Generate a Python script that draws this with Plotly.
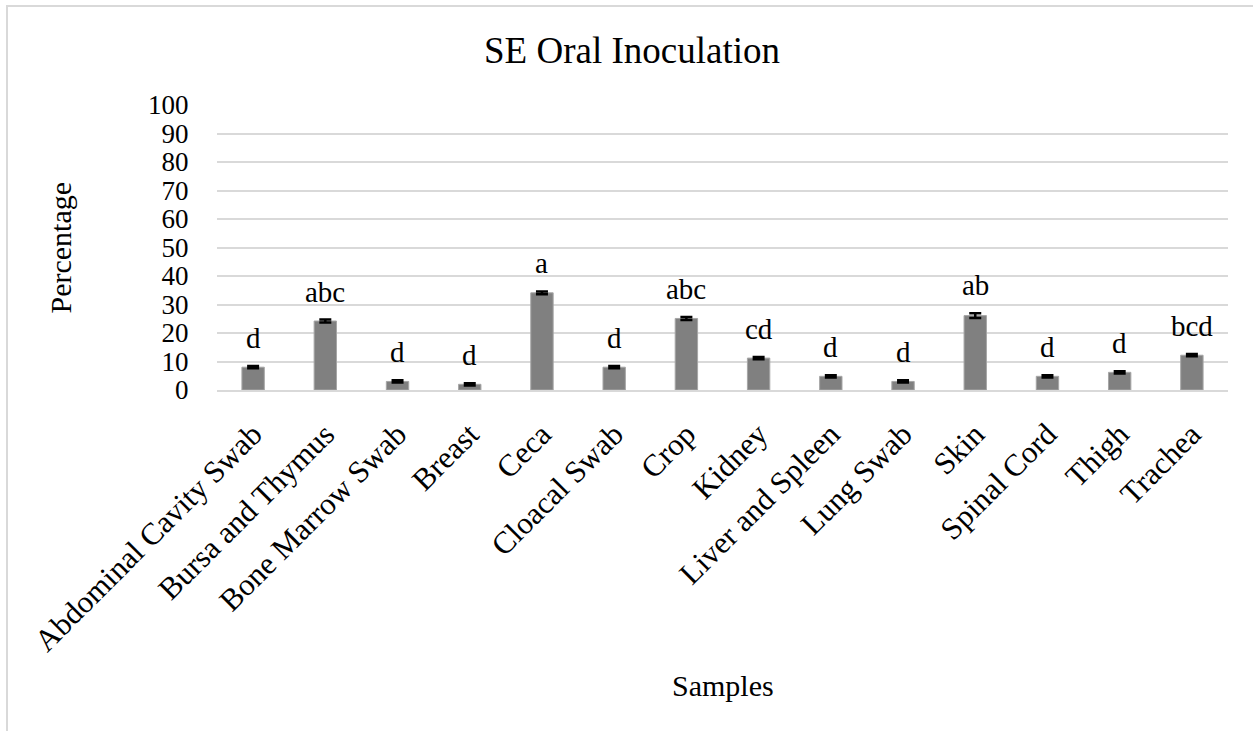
import plotly.graph_objects as go

categories = ["Abdominal Cavity Swab", "Bursa and Thymus", "Bone Marrow Swab", "Breast",
              "Ceca", "Cloacal Swab", "Crop", "Kidney", "Liver and Spleen", "Lung Swab",
              "Skin", "Spinal Cord", "Thigh", "Trachea"]
values = [8.0, 24.2, 3.0, 2.0, 34.1, 8.0, 25.1, 11.2, 4.8, 3.0, 26.1, 4.8, 6.2, 12.2]
errors = [0.4, 0.5, 0.4, 0.4, 0.5, 0.4, 0.5, 0.4, 0.4, 0.4, 0.8, 0.4, 0.4, 0.4]
letters = ["d", "abc", "d", "d", "a", "d", "abc", "cd", "d", "d", "ab", "d", "d", "bcd"]
y_ticks = [0, 10, 20, 30, 40, 50, 60, 70, 80, 90, 100]

FONT = "Liberation Serif, Times New Roman, serif"
W, H = 1253, 731
L, R, T, B = 217, 25, 105, 341
pw, ph = W - L - R, H - T - B

fig = go.Figure()
fig.add_trace(go.Bar(
    x=categories, y=values,
    marker=dict(color="#808080", line=dict(color="#a6a6a6", width=1)),
    error_y=dict(type="data", array=errors, visible=True, color="black",
                 thickness=2.5, width=6),
    hoverinfo="x+y",
))

annotations = []
for c, v, e, t in zip(categories, values, errors, letters):
    annotations.append(dict(x=c, y=v + e, xref="x", yref="y", text=t, showarrow=False,
                            yanchor="bottom", yshift=10,
                            font=dict(family=FONT, size=29, color="black")))

annotations.append(dict(x=(60 - L) / pw, y=0.5, xref="paper", yref="paper",
                        text="Percentage", textangle=-90, showarrow=False,
                        xanchor="center", yanchor="middle",
                        font=dict(family=FONT, size=30, color="black")))
annotations.append(dict(x=0.5, y=(T + ph - 686) / ph, xref="paper", yref="paper",
                        text="Samples", showarrow=False,
                        xanchor="center", yanchor="middle",
                        font=dict(family=FONT, size=30, color="black")))

fig.update_layout(
    width=W, height=H,
    margin=dict(l=L, r=R, t=T, b=B, autoexpand=False),
    paper_bgcolor="white", plot_bgcolor="white",
    bargap=0.69,
    showlegend=False,
    title=dict(text="SE Oral Inoculation", x=632 / W, xref="container", xanchor="center",
               y=1 - 50 / H, yref="container", yanchor="middle",
               font=dict(family=FONT, size=37, color="black")),
    annotations=annotations,
    shapes=[dict(type="rect", xref="paper", yref="paper",
                 x0=(7 - L) / pw, x1=1.2, y0=-1.5, y1=1 + (T - 6) / ph,
                 line=dict(color="#d9d9d9", width=2), fillcolor="rgba(0,0,0,0)",
                 layer="below")],
)
fig.update_xaxes(
    tickangle=-45, tickfont=dict(family=FONT, size=31, color="black"),
    showgrid=False, showline=True, linecolor="#d9d9d9", linewidth=1.5,
    ticks="outside", ticklen=12, tickcolor="rgba(0,0,0,0)", automargin=False,
)
fig.update_yaxes(
    range=[0, 100], tickvals=y_ticks, ticktext=[str(v) for v in y_ticks],
    tickfont=dict(family=FONT, size=27, color="black"),
    showgrid=True, gridcolor="#d9d9d9", gridwidth=1.5,
    zeroline=False, showline=False,
    ticks="outside", ticklen=22, tickcolor="rgba(0,0,0,0)", automargin=False,
)

fig.write_html("out.html", config={"displayModeBar": False},
               post_script="document.body.style.margin='0';document.body.style.overflow='hidden';")
